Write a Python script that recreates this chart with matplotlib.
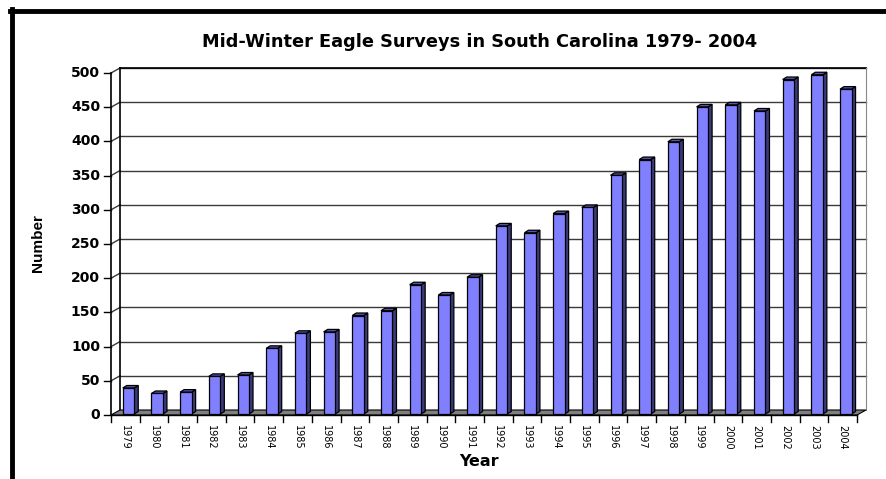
import numpy as np
import matplotlib.pyplot as plt
from matplotlib.patches import Polygon, Rectangle

# Mid-winter bald eagle counts, South Carolina
years = [str(y) for y in range(1979, 2005)]
counts = [38, 30, 32, 55, 57, 96, 118, 120, 144, 151, 189, 174, 200,
          275, 265, 293, 302, 349, 372, 398, 449, 452, 443, 489, 496, 475]
yticks = [0, 50, 100, 150, 200, 250, 300, 350, 400, 450, 500]

W, H = 886, 479
fig = plt.figure(figsize=(W / 100, H / 100), dpi=100)

# front plane of the pseudo-3D box, in pixels
left, right, base, top = 111, 857, 415, 73
ax = fig.add_axes([left / W, (H - base) / H, (right - left) / W, (base - top) / H])
n = len(counts)
ymax = 500
ax.set_xlim(0, n)
ax.set_ylim(0, ymax)
ax.axis("off")

px_x = n / (right - left)          # data units per pixel
px_y = ymax / (base - top)
DX, DY = 9 * px_x, 5 * px_y        # wall depth
bdx, bdy = 4 * px_x, 2.5 * px_y    # bar depth
bx0, by0 = 0.41, 1 * px_y          # bar front face offset in its slot
bw = 0.40

kw = dict(clip_on=False)

# back wall + gridlines
ax.add_patch(Rectangle((DX, DY), n, ymax, facecolor="white", edgecolor="none", zorder=0, **kw))
for v in yticks[1:]:
    ax.plot([DX, n + DX], [v + DY, v + DY], color="#3a3a3a", lw=1.0, zorder=1, **kw)
    ax.plot([0, DX], [v, v + DY], color="#3a3a3a", lw=1.0, zorder=1, **kw)
ax.plot([DX, n + DX], [ymax + DY, ymax + DY], color="black", lw=1.2, zorder=1, **kw)
ax.plot([DX, DX], [DY, ymax + DY], color="black", lw=1.2, zorder=1, **kw)
ax.plot([n + DX, n + DX], [DY, ymax + DY], color="#888888", lw=0.8, zorder=1, **kw)

# floor
ax.add_patch(Polygon([(0, 0), (n, 0), (n + DX, DY), (DX, DY)], closed=True,
                     facecolor="#808080", edgecolor="black", lw=0.8, zorder=2, **kw))

# front value axis and ticks
ax.plot([0, 0], [0, ymax], color="black", lw=1.2, zorder=2, **kw)
for v in yticks:
    ax.plot([-7 * px_x, 0], [v, v], color="black", lw=1.0, zorder=2, **kw)
    ax.text(-11 * px_x, v, str(v), ha="right", va="center", fontsize=10,
            fontweight="bold", family="DejaVu Sans", **kw)

# category ticks along front floor edge
ax.plot([0, n], [0, 0], color="black", lw=1.0, zorder=2, **kw)
for i in range(n + 1):
    ax.plot([i, i], [0, -7 * px_y], color="black", lw=1.0, zorder=2, **kw)
for i, lab in enumerate(years):
    ax.text(i + 0.5, -10 * px_y, lab, rotation=-90, ha="center", va="top",
            fontsize=7, family="DejaVu Sans", **kw)

# columns: front, side and top faces
front_c, side_c, top_c = "#8080FF", "#3B3B7A", "#5656B0"
for i, v in enumerate(counts):
    x0, y0 = i + bx0, by0
    x1, y1 = x0 + bw, y0 + v
    ax.add_patch(Polygon([(x1, y0), (x1 + bdx, y0 + bdy), (x1 + bdx, y1 + bdy), (x1, y1)],
                         closed=True, facecolor=side_c, edgecolor="black", lw=0.9, zorder=3, **kw))
    ax.add_patch(Polygon([(x0, y1), (x1, y1), (x1 + bdx, y1 + bdy), (x0 + bdx, y1 + bdy)],
                         closed=True, facecolor=top_c, edgecolor="black", lw=0.9, zorder=3, **kw))
    ax.add_patch(Rectangle((x0, y0), bw, v, facecolor=front_c, edgecolor="black",
                           lw=0.9, zorder=4, **kw))

fig.text(480 / W, 1 - 42 / H, "Mid-Winter Eagle Surveys in South Carolina 1979- 2004",
         ha="center", va="center", fontsize=12.8, fontweight="bold", family="DejaVu Sans")
fig.text(38 / W, 1 - 243 / H, "Number", rotation=90, ha="center", va="center",
         fontsize=11, fontweight="bold", family="Liberation Sans")
fig.text(479 / W, 1 - 461 / H, "Year", ha="center", va="center",
         fontsize=11.5, fontweight="bold", family="DejaVu Sans")

# black frame (top and left edges)
fig.add_artist(plt.Line2D([10 / W, 1], [1 - 11 / H, 1 - 11 / H], transform=fig.transFigure,
                          color="black", lw=3.5))
fig.add_artist(plt.Line2D([12 / W, 12 / W], [0, 1 - 9 / H], transform=fig.transFigure,
                          color="black", lw=3.5))

fig.savefig("out.png", dpi=100)
